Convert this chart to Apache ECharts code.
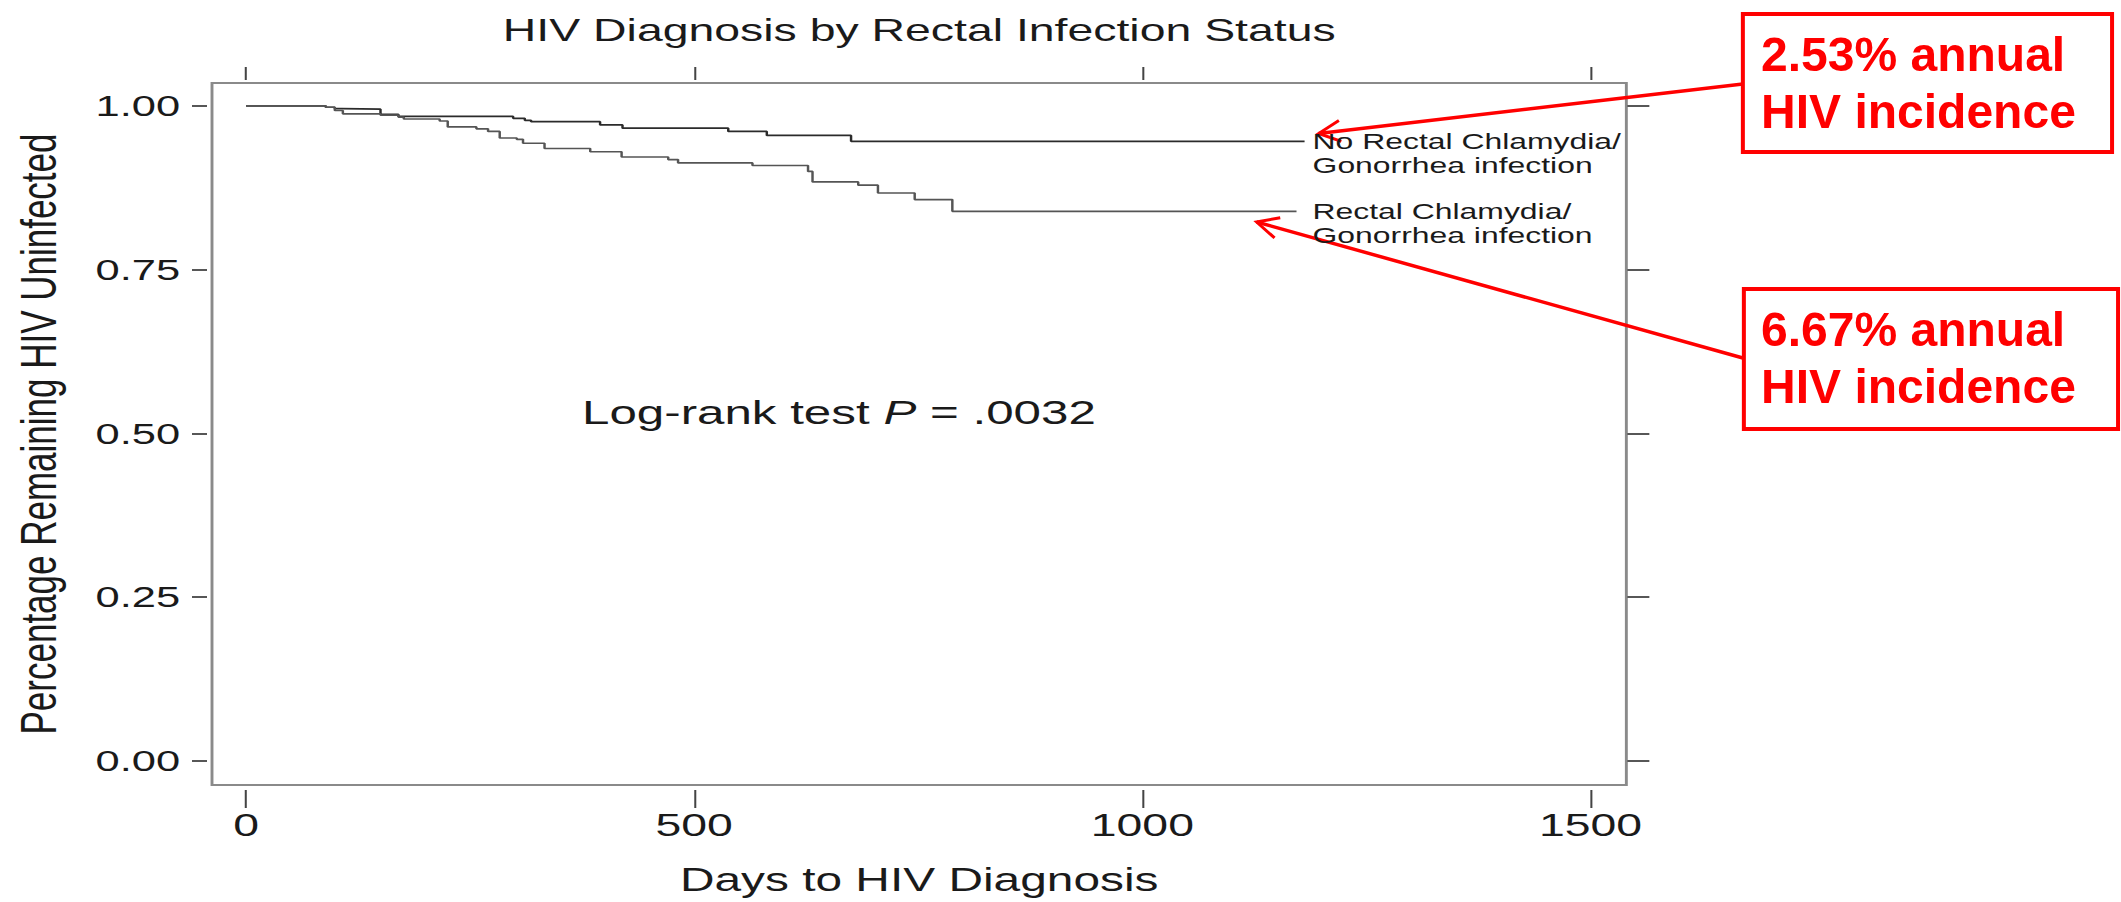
<!DOCTYPE html>
<html>
<head>
<meta charset="utf-8">
<title>HIV Diagnosis by Rectal Infection Status</title>
<script src="https://cdn.jsdelivr.net/npm/echarts@6/dist/echarts.min.js"></script>
<style>
  html, body { margin: 0; padding: 0; background: #fff; overflow: hidden; }
  #stage { position: relative; width: 2121px; height: 902px; overflow: hidden; background: #fff; }
  #km { position: absolute; left: 0; top: 0; height: 902px; transform-origin: 0 0; }
</style>
</head>
<body>
<div id="stage"><div id="km"></div></div>
<script>
// Kaplan-Meier steps (days, share still HIV negative)
const noRectalDays = [0, 89, 99, 107, 150, 170, 298, 311, 318, 395, 420, 538, 581, 675, 1181]
const noRectalSurv = [1.0, 0.998, 0.996, 0.995, 0.987, 0.984, 0.981, 0.978, 0.976, 0.971, 0.966, 0.961, 0.955, 0.946, 0.946]

const rectalDays = [0, 89, 99, 108, 150, 170, 176, 216, 225, 257, 270, 283, 302, 309, 333, 384, 419, 471, 482, 565, 627, 632, 683, 705, 746, 788, 1172]
const rectalSurv = [1.0, 0.998, 0.993, 0.988, 0.986, 0.983, 0.980, 0.977, 0.968, 0.965, 0.961, 0.951, 0.949, 0.943, 0.935, 0.930, 0.922, 0.918, 0.913, 0.909, 0.900, 0.884, 0.879, 0.867, 0.857, 0.839, 0.839]

const xTicks = [0, 500, 1000, 1500]
const yTicks = [0, 0.25, 0.5, 0.75, 1]

const seriesNames = ['No Rectal Chlamydia/\nGonorrhea infection', 'Rectal Chlamydia/\nGonorrhea infection']
const incidenceText = [['2.53% annual', 'HIV incidence'], ['6.67% annual', 'HIV incidence']]

// the Stata graph was pasted stretched sideways, so draw it narrow and widen it with css
const STRETCH = 1.45
const W = 2121
const sx = v => v / STRETCH
const font = '"Liberation Sans", Arial, Helvetica, sans-serif'
const ink = '#1a1a1a'

const dom = document.getElementById('km')
dom.style.width = (W / STRETCH) + 'px'
dom.style.transform = 'scaleX(' + STRETCH + ')'

const toPairs = (xs, ys) => xs.map((d, i) => [d, ys[i]])

// open V arrow head, full-size pixel space
function arrowHead(tail, tip, len, ang) {
  const a = Math.atan2(tail[1] - tip[1], tail[0] - tip[0])
  return [
    [tip[0] + len * Math.cos(a + ang), tip[1] + len * Math.sin(a + ang)],
    tip,
    [tip[0] + len * Math.cos(a - ang), tip[1] + len * Math.sin(a - ang)]
  ]
}

const arrows = [
  { tail: [1742, 84], tip: [1318, 133.5] },
  { tail: [1742, 358], tip: [1256, 222] }
]
const boxes = [
  { x: 1742, y: 14, w: 369, h: 138, rows: [54.5, 112] },
  { x: 1743, y: 289, w: 374, h: 140, rows: [329.5, 387] }
]

const red = '#ff0000'
const redParts = []
boxes.forEach((b, i) => {
  redParts.push({
    type: 'rect',
    shape: { x: b.x, y: b.y, width: b.w, height: b.h },
    style: { fill: 'transparent', stroke: red, lineWidth: 4 }
  })
  incidenceText[i].forEach((t, j) => {
    redParts.push({
      type: 'text',
      x: 1761,
      y: b.rows[j],
      style: { text: t, fill: red, font: 'bold 48px ' + font, textAlign: 'left', textVerticalAlign: 'middle' }
    })
  })
})
arrows.forEach(a => {
  redParts.push({
    type: 'line',
    shape: { x1: a.tail[0], y1: a.tail[1], x2: a.tip[0], y2: a.tip[1] },
    style: { stroke: red, lineWidth: 3.5 }
  })
  redParts.push({
    type: 'polyline',
    shape: { points: arrowHead(a.tail, a.tip, 24, 26 * Math.PI / 180) },
    style: { stroke: red, lineWidth: 3, fill: null }
  })
})

const chart = echarts.init(dom, null, { renderer: 'svg' })

const xTickStyle = { color: '#444', width: 1.4 }
const yTickStyle = { color: '#444', width: 1.8 }
const plainNum = v => String(v)

const option = {
  animation: false,
  backgroundColor: '#fff',
  title: {
    text: 'HIV Diagnosis by Rectal Infection Status',
    left: sx(912),
    top: 9,
    textAlign: 'center',
    textStyle: { fontSize: 32, fontWeight: 'normal', color: ink, fontFamily: font }
  },
  grid: {
    left: sx(212),
    right: sx(W - 1626),
    top: 83,
    bottom: 117,
    show: true,
    borderColor: '#8a8a8a',
    borderWidth: 2,
    containLabel: false,
    outerBoundsMode: 'none'
  },
  xAxis: [
    {
      type: 'value',
      position: 'bottom',
      min: -38,
      max: 1540,
      offset: 5,
      axisLine: { show: false, onZero: false },
      splitLine: { show: false },
      axisTick: { show: true, length: 18, customValues: xTicks, lineStyle: xTickStyle },
      axisLabel: { customValues: xTicks, margin: 19, fontSize: 32, color: ink, fontFamily: font, formatter: plainNum },
      name: 'Days to HIV Diagnosis',
      nameLocation: 'middle',
      nameGap: 73,
      nameTextStyle: { fontSize: 33, color: ink, fontFamily: font }
    },
    {
      type: 'value',
      position: 'top',
      min: -38,
      max: 1540,
      offset: 3,
      axisLine: { show: false, onZero: false },
      splitLine: { show: false },
      axisTick: { show: true, length: 13, customValues: xTicks, lineStyle: xTickStyle },
      axisLabel: { show: false }
    }
  ],
  yAxis: [
    {
      type: 'value',
      position: 'left',
      min: -0.037,
      max: 1.035,
      offset: sx(5),
      axisLine: { show: false, onZero: false },
      splitLine: { show: false },
      axisTick: { show: true, length: sx(15), customValues: yTicks, lineStyle: yTickStyle },
      axisLabel: {
        customValues: yTicks,
        margin: 18.5,
        fontSize: 30,
        color: ink,
        fontFamily: font,
        formatter: v => v.toFixed(2)
      },
      name: 'Percentage Remaining HIV Uninfected',
      nameLocation: 'middle',
      nameRotate: 90,
      nameGap: 99,
      nameTextStyle: { fontSize: 35, color: ink, fontFamily: font }
    },
    {
      type: 'value',
      position: 'right',
      min: -0.037,
      max: 1.035,
      offset: sx(1),
      axisLine: { show: false, onZero: false },
      splitLine: { show: false },
      axisTick: { show: true, length: sx(22), customValues: yTicks, lineStyle: yTickStyle },
      axisLabel: { show: false }
    }
  ],
  series: [
    {
      name: seriesNames[0],
      type: 'line',
      step: 'end',
      xAxisIndex: 0,
      yAxisIndex: 0,
      data: toPairs(noRectalDays, noRectalSurv),
      showSymbol: false,
      lineStyle: { color: '#2b2b2b', width: 1.7 },
      endLabel: {
        show: true,
        formatter: seriesNames[0],
        distance: sx(8),
        offset: [0, 12],
        fontSize: 22,
        lineHeight: 24,
        color: ink,
        fontFamily: font
      }
    },
    {
      name: seriesNames[1],
      type: 'line',
      step: 'end',
      xAxisIndex: 0,
      yAxisIndex: 0,
      data: toPairs(rectalDays, rectalSurv),
      showSymbol: false,
      lineStyle: { color: '#555', width: 1.7 },
      endLabel: {
        show: true,
        formatter: seriesNames[1],
        distance: sx(16),
        offset: [0, 12],
        fontSize: 22,
        lineHeight: 24,
        color: ink,
        fontFamily: font
      }
    }
  ],
  graphic: [
    {
      type: 'text',
      x: sx(582),
      y: 412.5,
      style: {
        text: '{a|Log-rank test }{b|P}{a| = .0032}',
        textAlign: 'left',
        textVerticalAlign: 'middle',
        rich: {
          a: { fontSize: 34, fill: ink, fontFamily: font },
          b: { fontSize: 34, fill: ink, fontFamily: font, fontStyle: 'italic' }
        }
      }
    },
    {
      // red callouts were added on the slide, undo the stretch for them
      type: 'group',
      x: 0,
      y: 0,
      scaleX: 1 / STRETCH,
      children: redParts
    }
  ]
}

chart.setOption(option)
</script>
</body>
</html>
